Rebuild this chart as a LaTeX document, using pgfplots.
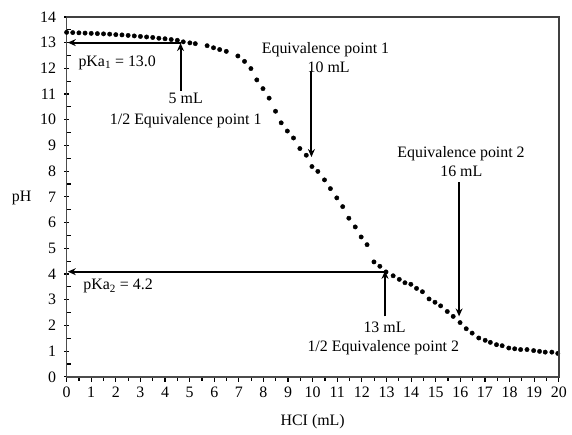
\documentclass[border=0pt]{standalone}
\usepackage{fontspec}
\setmainfont{Liberation Serif}
\usepackage{pgfplots}
\pgfplotsset{compat=1.18}
\usetikzlibrary{arrows.meta}

\pgfplotstableread{
x     ph
0     13.40
0.25  13.39
0.5   13.38
0.75  13.37
1.0   13.36
1.25  13.35
1.5   13.34
1.75  13.33
2.0   13.31
2.25  13.30
2.5   13.28
2.75  13.26
3.0   13.24
3.25  13.22
3.5   13.20
3.75  13.17
4.0   13.15
4.25  13.12
4.5   13.09
4.74  13.03
5.01  12.99
5.23  12.96
5.71  12.88
5.97  12.80
6.22  12.73
6.49  12.66
6.96  12.48
7.23  12.27
7.49  11.99
7.73  11.55
7.98  11.21
8.23  10.84
8.49  10.33
8.72  9.88
8.97  9.56
9.22  9.29
9.48  8.88
9.74  8.62
9.97  8.18
10.21 7.99
10.48 7.66
10.72 7.32
10.98 6.96
11.22 6.62
11.47 6.17
11.73 5.83
11.97 5.44
12.21 5.14
12.49 4.47
12.73 4.30
12.98 4.08
13.27 3.93
13.52 3.79
13.75 3.66
13.99 3.60
14.22 3.44
14.46 3.31
14.73 3.03
14.97 2.90
15.20 2.76
15.47 2.54
15.71 2.35
15.99 2.11
16.24 1.87
16.48 1.70
16.75 1.51
17.01 1.42
17.22 1.34
17.47 1.25
17.70 1.21
17.97 1.12
18.21 1.09
18.45 1.06
18.71 1.06
18.98 1.02
19.22 0.99
19.45 0.96
19.72 0.96
19.96 0.91
}\titration

\begin{document}
\fontsize{16}{19}\selectfont
\begin{tikzpicture}
\begin{axis}[
  name=ax,
  scale only axis,
  width=495pt, height=362pt,
  xmin=0, xmax=20, ymin=0, ymax=14,
  xtick={0,...,20}, ytick={0,...,14},
  minor x tick num=1, minor y tick num=1,
  xtick pos=bottom, ytick pos=left,
  axis line style={black!70, line width=1.4pt},
  tick style={black, line width=1.2pt},
  tick align=outside,
  major tick length=5pt, minor tick length=4pt,
  major y tick style={xshift=2.5pt},
  minor y tick style={xshift=4pt},
  /pgf/number format/assume math mode=true,
  tick label style={font=\fontsize{16}{19}\selectfont},
  clip=false,
]
\addplot[only marks, mark=*, mark size=2.2pt, black] table[x=x, y=ph] {\titration};

% axis titles
\node[anchor=base] at (axis cs:-1.83,6.83) {pH};
\node[anchor=base] at (axis cs:10,-1.9) {HCI (mL)};

% first half-equivalence point
\draw[line width=2pt, -{Stealth[length=8pt,width=7pt]}] (axis cs:4.63,13.0) -- (axis cs:0.05,13.0);
\draw[line width=2pt, -{Stealth[length=8pt,width=7pt]}] (axis cs:4.63,11.11) -- (axis cs:4.63,12.98);
\node[anchor=base west] at (axis cs:0.26,12.08) {pKa\textsubscript{1} = 13.0};
\node[anchor=base] at (axis cs:4.84,10.63) {5 mL};
\node[anchor=base] at (axis cs:4.84,9.82) {1/2 Equivalence point 1};

% first equivalence point
\node[anchor=base] at (axis cs:10.52,12.59) {Equivalence point 1};
\node[anchor=base] at (axis cs:10.65,11.84) {10 mL};
\draw[line width=2pt, -{Stealth[length=8pt,width=7pt]}] (axis cs:9.95,11.88) -- (axis cs:9.95,8.55);

% second equivalence point
\node[anchor=base] at (axis cs:16.03,8.53) {Equivalence point 2};
\node[anchor=base] at (axis cs:16.04,7.80) {16 mL};
\draw[line width=2pt, -{Stealth[length=8pt,width=7pt]}] (axis cs:15.95,7.56) -- (axis cs:15.95,2.35);

% second half-equivalence point
\draw[line width=2pt, -{Stealth[length=8pt,width=7pt]}] (axis cs:12.94,4.09) -- (axis cs:0.05,4.09);
\draw[line width=2pt, -{Stealth[length=8pt,width=7pt]}] (axis cs:12.94,2.35) -- (axis cs:12.94,4.12);
\node[anchor=base west] at (axis cs:0.46,3.38) {pKa\textsubscript{2} = 4.2};
\node[anchor=base] at (axis cs:12.92,1.74) {13 mL};
\node[anchor=base] at (axis cs:12.87,0.97) {1/2 Equivalence point 2};
\end{axis}
% frame on top and right, as filled strips
\fill[black!75] (ax.south west) ++(-0.8pt,361.2pt) rectangle ++(496.6pt,1.6pt);
\fill[black!75] (ax.south west) ++(494.2pt,-0.8pt) rectangle ++(1.6pt,363.6pt);
\path (-67pt,-55pt) rectangle (505pt,379pt);
\end{tikzpicture}
\end{document}
